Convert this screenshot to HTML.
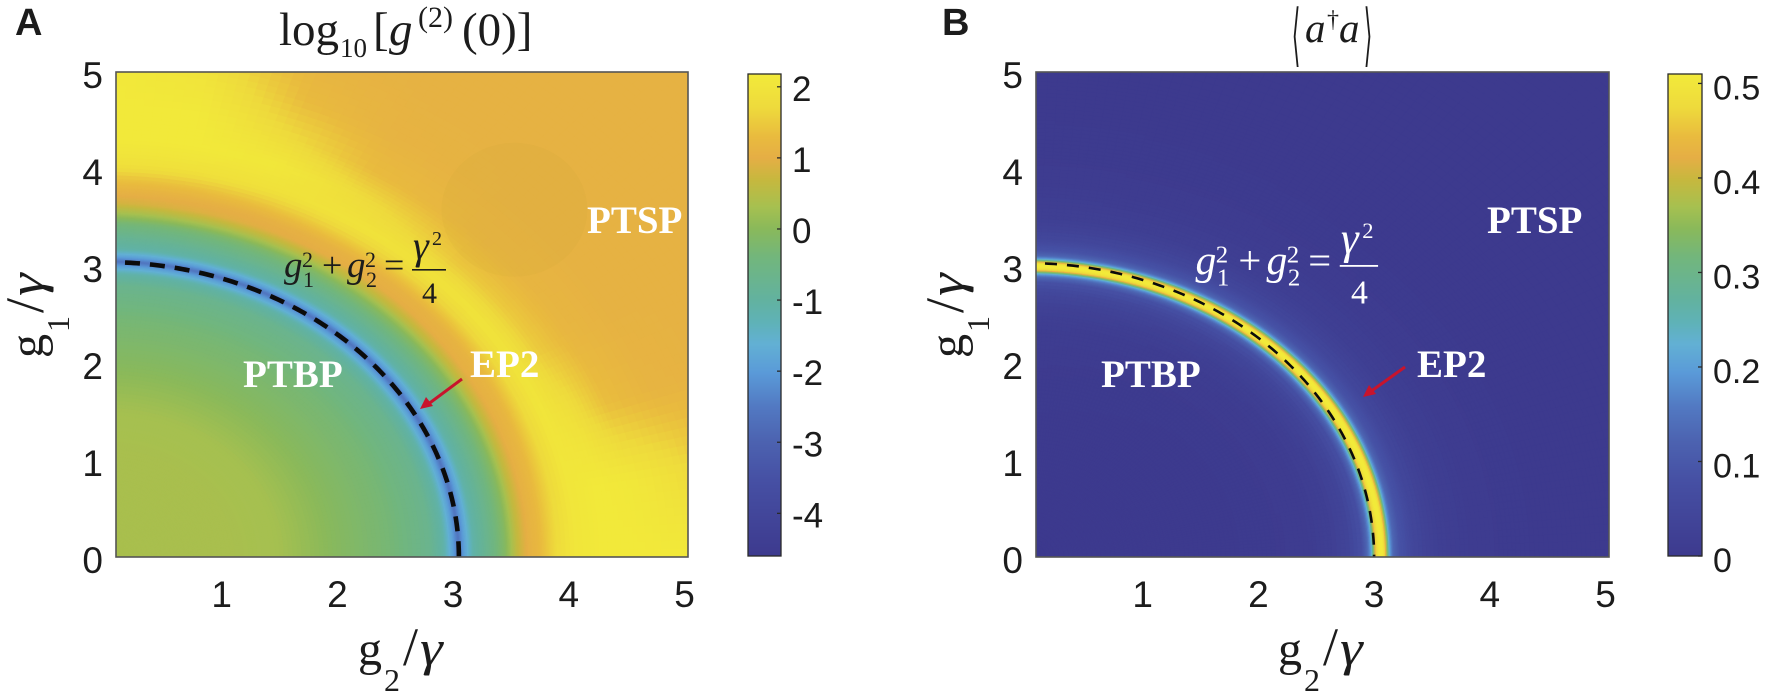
<!DOCTYPE html>
<html lang="en">
<head>
<meta charset="utf-8">
<title>log10 g2(0) and mean photon number maps</title>
<style>
html,body{margin:0;padding:0;background:#fff;width:1772px;height:699px;overflow:hidden}
svg{display:block}
.sans{font-family:"Liberation Sans",Arial,sans-serif;fill:#1c1c1c}
.serif{font-family:"Liberation Serif","Times New Roman",serif}
.ital{font-style:italic}
.region{font-family:"Liberation Serif",serif;font-weight:bold;font-size:39px;fill:#fff}
</style>
</head>
<body>
<svg id="fig" xmlns="http://www.w3.org/2000/svg" width="1772" height="699" viewBox="0 0 1772 699">
  <defs>
    <clipPath id="clipA"><rect x="116" y="72" width="572" height="485"/></clipPath>
    <clipPath id="clipB"><rect x="1036" y="72" width="573" height="485"/></clipPath>
  </defs>
  <g id="layerA"></g>
  <g id="layerB"></g>

  <text x="15" y="35" class="sans" font-size="38" font-weight="bold" fill="#000">A</text>
  <text x="942" y="35" class="sans" font-size="38" font-weight="bold" fill="#000">B</text>

  <text class="serif" y="45" font-size="47" fill="#1c1c1c"><tspan x="279">log</tspan><tspan x="340" y="57" font-size="27">10</tspan><tspan x="373" y="45">[</tspan><tspan x="389" class="ital">g</tspan><tspan x="418" y="27" font-size="30">(2)</tspan><tspan x="462" y="45">(0)]</tspan></text>

  <g>
    <text class="serif ital" y="42" font-size="41" fill="#1c1c1c"><tspan x="1305">a</tspan><tspan x="1327" y="27" font-size="24" font-style="normal">†</tspan><tspan x="1339" y="42">a</tspan></text>
    <text x="1296" y="34" text-anchor="middle" dominant-baseline="middle" font-family="'DejaVu Sans',sans-serif" font-size="22" fill="#1c1c1c" transform="translate(1296 39) scale(1 3.1) translate(-1296 -34)">⟨</text>
    <text x="1368" y="34" text-anchor="middle" dominant-baseline="middle" font-family="'DejaVu Sans',sans-serif" font-size="22" fill="#1c1c1c" transform="translate(1368 39) scale(1 3.1) translate(-1368 -34)">⟩</text>
  </g>

  <g transform="translate(358 665)" class="serif" fill="#1c1c1c"><text font-size="48" x="0" y="0">g</text><text font-size="32" x="26" y="26">2</text><text font-size="54" x="45" y="0">/</text><text font-size="50" class="ital" transform="translate(62 0) scale(1.15 1)">γ</text></g>
  <g transform="translate(43 358) rotate(-90)" class="serif" fill="#1c1c1c"><text font-size="48" x="0" y="0">g</text><text font-size="32" x="26" y="26">1</text><text font-size="54" x="45" y="0">/</text><text font-size="50" class="ital" transform="translate(62 0) scale(1.15 1)">γ</text></g>
  <g transform="translate(1278 665)" class="serif" fill="#1c1c1c"><text font-size="48" x="0" y="0">g</text><text font-size="32" x="26" y="26">2</text><text font-size="54" x="45" y="0">/</text><text font-size="50" class="ital" transform="translate(62 0) scale(1.15 1)">γ</text></g>
  <g transform="translate(963 358) rotate(-90)" class="serif" fill="#1c1c1c"><text font-size="48" x="0" y="0">g</text><text font-size="32" x="26" y="26">1</text><text font-size="54" x="45" y="0">/</text><text font-size="50" class="ital" transform="translate(62 0) scale(1.15 1)">γ</text></g>

  <text x="243" y="387" class="region">PTBP</text>
  <text x="470" y="377" class="region">EP2</text>
  <text x="587" y="233" class="region">PTSP</text>
  <text x="1101" y="387" class="region">PTBP</text>
  <text x="1417" y="377" class="region">EP2</text>
  <text x="1487" y="233" class="region">PTSP</text>

  <g>
    <line x1="462" y1="379" x2="427" y2="405" stroke="#c8142c" stroke-width="3"/>
    <polygon points="420,409 426,397 433,406" fill="#c8142c"/>
  </g>
  <g>
    <line x1="1405" y1="367" x2="1370" y2="392" stroke="#c8142c" stroke-width="3"/>
    <polygon points="1363,397 1369,385 1376,394" fill="#c8142c"/>
  </g>

  <g id="eqA" transform="translate(284 277)" fill="#1c1c1c" class="serif">
    <text font-size="37" class="ital" x="0" y="0">g</text>
    <text font-size="22" x="18" y="-10">2</text>
    <text font-size="22" x="19" y="10">1</text>
    <text font-size="36" x="38" y="0">+</text>
    <text font-size="37" class="ital" x="63" y="0">g</text>
    <text font-size="22" x="81" y="-10">2</text>
    <text font-size="22" x="82" y="10">2</text>
    <text font-size="36" x="100" y="0">=</text>
    <text font-size="40" class="ital" x="129" y="-18">γ</text>
    <text font-size="20" x="148" y="-32">2</text>
    <rect x="128" y="-8" width="34" height="1.6" fill="#1c1c1c"/>
    <text font-size="30" x="138" y="26">4</text>
  </g>
  <g id="eqB" transform="translate(1195.5 274) scale(1.127)" fill="#fff" class="serif">
    <text font-size="37" class="ital" x="0" y="0">g</text>
    <text font-size="22" x="18" y="-10">2</text>
    <text font-size="22" x="19" y="10">1</text>
    <text font-size="36" x="38" y="0">+</text>
    <text font-size="37" class="ital" x="63" y="0">g</text>
    <text font-size="22" x="81" y="-10">2</text>
    <text font-size="22" x="82" y="10">2</text>
    <text font-size="36" x="100" y="0">=</text>
    <text font-size="40" class="ital" x="129" y="-18">γ</text>
    <text font-size="20" x="148" y="-32">2</text>
    <rect x="128" y="-8" width="34" height="1.6" fill="#fff"/>
    <text font-size="30" x="138" y="26">4</text>
  </g>
</svg>

<script>
// ---------- chart data ----------
const axisTicksX = [1, 2, 3, 4, 5];
const axisTicksY = [0, 1, 2, 3, 4, 5];
const colorbarTicksA = [2, 1, 0, -1, -2, -3, -4];
const colorbarTicksB = [0, 0.1, 0.2, 0.3, 0.4, 0.5];
const colorRangeA = [-4.6, 2.18];
const colorRangeB = [0, 0.51];

// colormap stops: fraction of range, colour as seen in the colorbars
const cmapFractions = [0, 0.158, 0.236, 0.31, 0.38, 0.44, 0.483, 0.53, 0.62, 0.68, 0.724, 0.78, 0.826, 0.87, 0.93, 1];
const cmapColors = ['#3d3a8e', '#4650a4', '#4c62b0', '#5279c2', '#5a9ad8', '#62b0d4', '#5fb2b8', '#62b2a0', '#72b67c', '#8ab95a', '#a6c050', '#c6b83e', '#e5ae45', '#e9bb3e', '#eeda3c', '#f2ea3a'];

// Panel A: log10 g2(0) sampled on radius (columns) / angle in degrees (rows)
const radiiA = [0, 1, 1.5, 2, 2.5, 2.8, 2.92, 3.0, 3.05, 3.1, 3.18, 3.3, 3.45, 3.55, 3.65, 3.75, 3.9, 4.05, 4.3, 4.6, 5, 5.5, 6, 7.2];
const anglesA = [0, 10, 20, 30, 45, 60, 70, 80, 90];
const valuesA = [
  [.35,.35,.3,-.05,-.35,-.7,-1.1,-1.9,-2.6,-1.9,-1.1,-.7,-.1,.6,1.05,1.25,1.75,2.05,2.15,2.15,2.15,2.1,2,1.8],
  [.35,.35,.3,-.05,-.35,-.7,-1.1,-1.9,-2.6,-1.9,-1.1,-.7,-.1,.6,1.05,1.25,1.7,2.05,2.15,2.1,1.85,1.35,1.15,1.1],
  [.35,.35,.3,-.05,-.35,-.7,-1.1,-1.9,-2.6,-1.9,-1.1,-.7,-.1,.6,1.05,1.2,1.7,2.05,1.85,1.35,1.15,1.1,1.1,1.1],
  [.35,.35,.3,-.05,-.35,-.7,-1.1,-1.9,-2.6,-1.9,-1.1,-.7,-.1,.6,1.05,1.15,1.65,2,1.5,1.2,1.1,1.1,1.1,1.1],
  [.35,.35,.3,-.05,-.35,-.7,-1.1,-1.9,-2.6,-1.9,-1.1,-.7,-.1,.55,1,1.1,1.6,1.95,1.45,1.15,1.1,1.1,1.1,1.1],
  [.35,.35,.3,-.05,-.35,-.7,-1.1,-1.9,-2.6,-1.9,-1.1,-.7,-.15,.5,1,1.1,1.55,1.95,1.8,1.3,1.12,1.1,1.1,1.1],
  [.35,.35,.3,-.05,-.35,-.7,-1.1,-1.9,-2.6,-1.9,-1.1,-.7,-.2,.45,.95,1.05,1.45,1.9,2.1,1.75,1.3,1.12,1.1,1.1],
  [.35,.35,.3,-.05,-.35,-.7,-1.1,-1.9,-2.6,-1.9,-1.1,-.75,-.25,.4,.9,1.05,1.4,1.9,2.15,2.15,2,1.45,1.15,1.1],
  [.35,.35,.3,-.05,-.35,-.7,-1.1,-1.9,-2.6,-1.9,-1.1,-.8,-.3,.3,.8,1.05,1.4,1.9,2.15,2.15,2.15,1.9,1.4,1.1]
];

// Panel B: mean photon number, ring-centred radius (columns) / angle (rows)
const radiiB = [0, 1.5, 2, 2.4, 2.6, 2.75, 2.85, 2.9, 2.93, 2.95, 2.97, 3.0, 3.03, 3.05, 3.07, 3.09, 3.12, 3.17, 3.3, 3.5, 3.8, 4.2, 5, 7.2];
const anglesB = [0, 45, 90];
const valuesB = [
  [0,0,.003,.008,.02,.04,.075,.13,.2,.32,.46,.51,.51,.46,.33,.2,.13,.09,.045,.02,.008,.002,0,0],
  [0,0,.003,.01,.022,.042,.078,.13,.2,.32,.46,.51,.51,.46,.33,.2,.13,.09,.045,.02,.008,.002,0,0],
  [0,.002,.006,.014,.028,.05,.085,.135,.2,.32,.46,.51,.51,.46,.33,.2,.13,.09,.045,.02,.01,.003,0,0]
];

// Faint plateau visible in panel A (data units)
const plateauCenterA = [3.53, 3.58];
const plateauRadiiA = [0.63, 0.69];

// Exceptional-point curve radii on g2 and g1 axes
const epCurveA = [3.05, 3.04];
const epCurveB = [3.0, 3.03];
// Bright ring semi-axes in panel B relative to radiiB's radius 3
const ringStretchB = [3.047, 2.99];

// ---------- helpers ----------
const NS = 'http://www.w3.org/2000/svg';
function make(tag, parent, attrs) {
  const el = document.createElementNS(NS, tag);
  for (const k in attrs) el.setAttribute(k, attrs[k]);
  parent.appendChild(el);
  return el;
}
function hexToRgb(h) { return [1, 3, 5].map(i => parseInt(h.substr(i, 2), 16)); }
const cmapRgb = cmapColors.map(hexToRgb);
function colormap(f) {
  f = Math.max(0, Math.min(1, f));
  let i = 0;
  while (i < cmapFractions.length - 2 && f > cmapFractions[i + 1]) i++;
  const t = (f - cmapFractions[i]) / (cmapFractions[i + 1] - cmapFractions[i]);
  const a = cmapRgb[i], b = cmapRgb[i + 1];
  return 'rgb(' + a.map((c, k) => Math.round(c + (b[k] - c) * t)).join(',') + ')';
}
function locate(arr, v) {
  let i = 0;
  while (i < arr.length - 2 && v > arr[i + 1]) i++;
  return [i, Math.max(0, Math.min(1, (v - arr[i]) / (arr[i + 1] - arr[i])))];
}
function sampleGrid(radii, angles, values, r, deg) {
  const [ri, rt] = locate(radii, r);
  const [ai, at] = locate(angles, deg);
  const a = values[ai][ri] + (values[ai][ri + 1] - values[ai][ri]) * rt;
  const b = values[ai + 1][ri] + (values[ai + 1][ri + 1] - values[ai + 1][ri]) * rt;
  return a + (b - a) * at;
}
function radialEdges(radii, ringLo, ringHi) {
  const out = [];
  for (let i = 0; i < radii.length - 1; i++) {
    const mid = (radii[i] + radii[i + 1]) / 2;
    const step = (mid > ringLo && mid < ringHi) ? 0.012 : (mid < 4.7 ? 0.04 : 0.07);
    const n = Math.max(1, Math.ceil((radii[i + 1] - radii[i]) / step));
    for (let j = 0; j < n; j++) out.push(radii[i] + (radii[i + 1] - radii[i]) * j / n);
  }
  out.push(radii[radii.length - 1]);
  return out;
}

function drawPanel(cfg) {
  const layer = cfg.layer;
  const xs = v => cfg.x0 + cfg.sx * v;
  const ys = v => cfg.y0 - cfg.sy * v;
  const heat = make('g', layer, { 'clip-path': 'url(#' + cfg.clip + ')' });
  
  
  const span = cfg.range[1] - cfg.range[0];
  const edges = radialEdges(cfg.radii, cfg.ringLo, cfg.ringHi);
  const dA = 1;
  const pt = (r, deg) => {
    const t = deg * Math.PI / 180;
    return [xs(r * Math.cos(t) * cfg.stretch[0]), ys(r * Math.sin(t) * cfg.stretch[1])];
  };
  for (let a = 0; a < 90; a += dA) {
    for (let k = 0; k < edges.length - 1; k++) {
      const r0 = edges[k], r1 = edges[k + 1];
      const c = [pt(r0, a), pt(r1, a), pt(r1, a + dA), pt(r0, a + dA)];
      if (c.every(p => p[0] > cfg.right) || c.every(p => p[1] < cfg.top) ||
          c.every(p => p[0] < cfg.left) || c.every(p => p[1] > cfg.y0)) continue;
      const v = sampleGrid(cfg.radii, cfg.angles, cfg.values, (r0 + r1) / 2, a + dA / 2);
      const col = colormap((v - cfg.range[0]) / span);
      const cell = make('path', heat, {
        d: 'M' + c.map(p => p[0].toFixed(1) + ' ' + p[1].toFixed(1)).join('L') + 'Z',
        fill: col, stroke: col, 'stroke-width': 0.7
      });
      
      
    }
  }
  if (cfg.plateau) {
    const p = make('ellipse', heat, {
      cx: xs(cfg.plateau[0]), cy: ys(cfg.plateau[1]),
      rx: cfg.sx * cfg.plateauR[0], ry: cfg.sy * cfg.plateauR[1],
      fill: 'rgba(175,150,30,0.06)'
    });
    
    
  }
  // EP curve
  let d = '';
  for (let a = 90; a >= 0; a -= 0.5) {
    const t = a * Math.PI / 180;
    d += (a === 90 ? 'M' : 'L') + xs(cfg.curve[0] * Math.cos(t)).toFixed(2) + ' ' + ys(cfg.curve[1] * Math.sin(t)).toFixed(2);
  }
  const curve = make('path', heat, {
    d: d, fill: 'none', stroke: '#0b0b0b',
    'stroke-width': cfg.curveW, 'stroke-dasharray': cfg.curveDash, 'stroke-dashoffset': cfg.curveOffset
  });
  
  
  // frame
  const frame = make('rect', layer, {
    x: cfg.left, y: cfg.top, width: cfg.right - cfg.left, height: cfg.y0 - cfg.top,
    fill: 'none', stroke: '#555', 'stroke-width': 1.6
  });
  
  
  // ticks
  axisTicksX.forEach(v => {
    const t = make('text', layer, { x: xs(v), y: 607, 'text-anchor': 'middle', 'font-size': 37, class: 'sans' });
    t.textContent = v;
    
    
  });
  axisTicksY.forEach(v => {
    const t = make('text', layer, { x: cfg.left - 13, y: ys(v) + 16, 'text-anchor': 'end', 'font-size': 37, class: 'sans' });
    t.textContent = v;
    
    
  });
  // colorbar
  const cb = make('g', layer, {});
  
  
  const cbTop = 74, cbBot = 556;
  for (let y = cbTop; y < cbBot; y++) {
    const f = 1 - (y + 0.5 - cbTop) / (cbBot - cbTop);
    const seg = make('rect', cb, { x: cfg.cbL, y: y, width: cfg.cbR - cfg.cbL, height: 1.2, fill: colormap(f) });
    
    
  }
  const cbFrame = make('rect', cb, { x: cfg.cbL, y: cbTop, width: cfg.cbR - cfg.cbL, height: cbBot - cbTop, fill: 'none', stroke: '#2a2a2a', 'stroke-width': 1.3 });
  
  
  const cbY = v => cbBot - (v - cfg.range[0]) / span * (cbBot - cbTop);
  cfg.cbTicks.forEach(v => {
    const y = cbY(v);
    const tk = make('line', cb, { x1: cfg.cbR - 4, x2: cfg.cbR, y1: y, y2: y, stroke: '#2a2a2a', 'stroke-width': 1.3 });
    
    
    const t = make('text', cb, { x: cfg.cbLabelX, y: y + cfg.cbLabelDy, 'font-size': cfg.cbFont, class: 'sans' });
    t.textContent = v;
    
    
  });
}

drawPanel({
  layer: document.getElementById('layerA'), clip: 'clipA',
  x0: 106, y0: 557, sx: 115.7, sy: 97, left: 116, right: 688, top: 72,
  radii: radiiA, angles: anglesA, values: valuesA, range: colorRangeA,
  stretch: [1, 1], ringLo: 2.85, ringHi: 3.95,
  plateau: plateauCenterA, plateauR: plateauRadiiA,
  curve: epCurveA, curveW: 4.6, curveDash: '15 10', curveOffset: 6,
  cbL: 748, cbR: 781, cbTicks: colorbarTicksA, cbLabelX: 792, cbLabelDy: 14, cbFont: 35
});
drawPanel({
  layer: document.getElementById('layerB'), clip: 'clipB',
  x0: 1027, y0: 557, sx: 115.7, sy: 97, left: 1036, right: 1609, top: 72,
  radii: radiiB, angles: anglesB, values: valuesB, range: colorRangeB,
  stretch: [ringStretchB[0] / 3, ringStretchB[1] / 3], ringLo: 2.8, ringHi: 3.25,
  plateau: null, plateauR: null,
  curve: epCurveB, curveW: 2.6, curveDash: '12 10', curveOffset: 4,
  cbL: 1668, cbR: 1702, cbTicks: colorbarTicksB, cbLabelX: 1713, cbLabelDy: 16, cbFont: 34
});
</script>
</body>
</html>
